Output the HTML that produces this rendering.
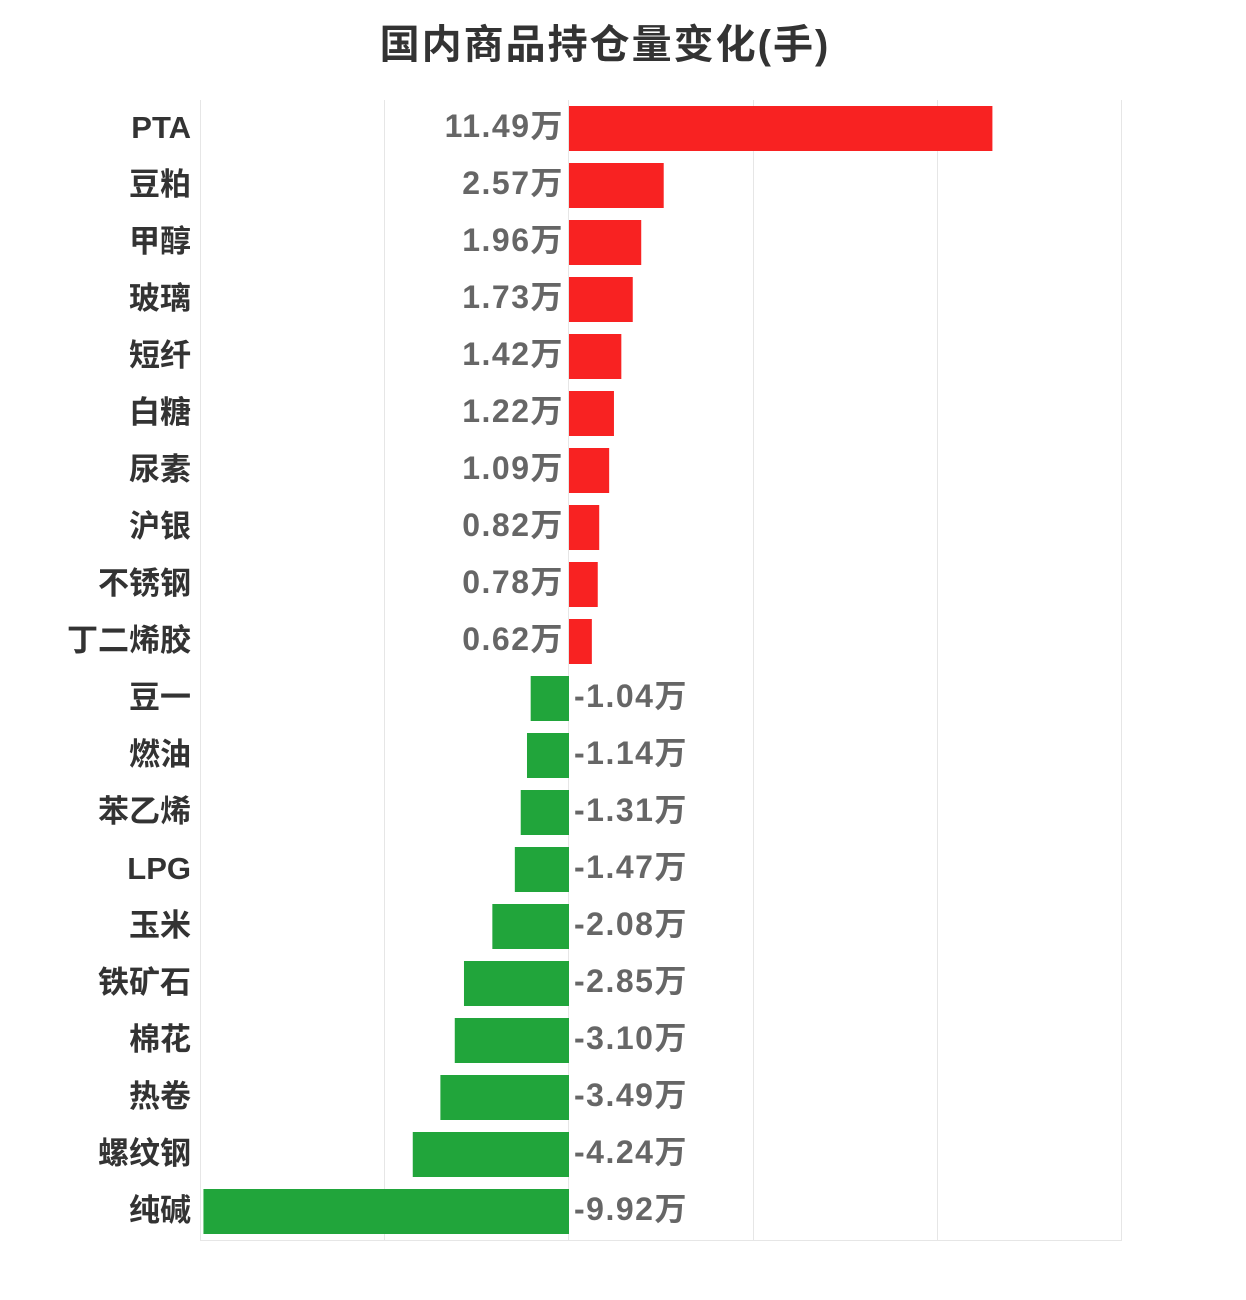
<!DOCTYPE html>
<html><head><meta charset="utf-8"><style>
html,body{margin:0;padding:0;background:#fff;}
svg{display:block;font-family:"Liberation Sans","Noto Sans CJK SC",sans-serif;font-weight:bold;}
</style></head><body>
<svg width="1246" height="1300" xmlns="http://www.w3.org/2000/svg">
<text x="605" y="58" text-anchor="middle" font-size="40" letter-spacing="2" fill="#333">国内商品持仓量变化(手)</text>
<g stroke="#e6e6e6" stroke-width="1">
<line x1="200.5" y1="100" x2="200.5" y2="1240"/>
<line x1="384.5" y1="100" x2="384.5" y2="1240"/>
<line x1="568.5" y1="100" x2="568.5" y2="1240"/>
<line x1="753.5" y1="100" x2="753.5" y2="1240"/>
<line x1="937.5" y1="100" x2="937.5" y2="1240"/>
<line x1="1121.5" y1="100" x2="1121.5" y2="1240"/>
<line x1="200" y1="1240.5" x2="1122" y2="1240.5"/>
</g>
<g id="rows"></g>
</svg>
<script>
var d=[["PTA",11.49],["豆粕",2.57],["甲醇",1.96],["玻璃",1.73],["短纤",1.42],["白糖",1.22],["尿素",1.09],["沪银",0.82],["不锈钢",0.78],["丁二烯胶",0.62],["豆一",-1.04],["燃油",-1.14],["苯乙烯",-1.31],["LPG",-1.47],["玉米",-2.08],["铁矿石",-2.85],["棉花",-3.10],["热卷",-3.49],["螺纹钢",-4.24],["纯碱",-9.92]];
var g=document.getElementById('rows'),s='',k=36.85,z=569;
d.forEach(function(r,i){var y=106+57*i,c=y+22,v=r[1],w=Math.abs(v)*k;
s+='<text x="191" y="'+(c+10)+'" text-anchor="end" font-size="31" fill="#333">'+r[0]+'</text>';
if(v>0){s+='<rect x="'+z+'" y="'+y+'" width="'+w+'" height="45" fill="#f82222"/>';
s+='<text x="564" y="'+(c+9)+'" text-anchor="end" font-size="32" letter-spacing="1.5" fill="#666">'+v.toFixed(2)+'万</text>';}
else{s+='<rect x="'+(z-w)+'" y="'+y+'" width="'+w+'" height="45" fill="#21a53b"/>';
s+='<text x="574" y="'+(c+9)+'" font-size="32" letter-spacing="1.5" fill="#666">'+v.toFixed(2)+'万</text>';}
});
g.innerHTML=s;
</script>
</body></html>
